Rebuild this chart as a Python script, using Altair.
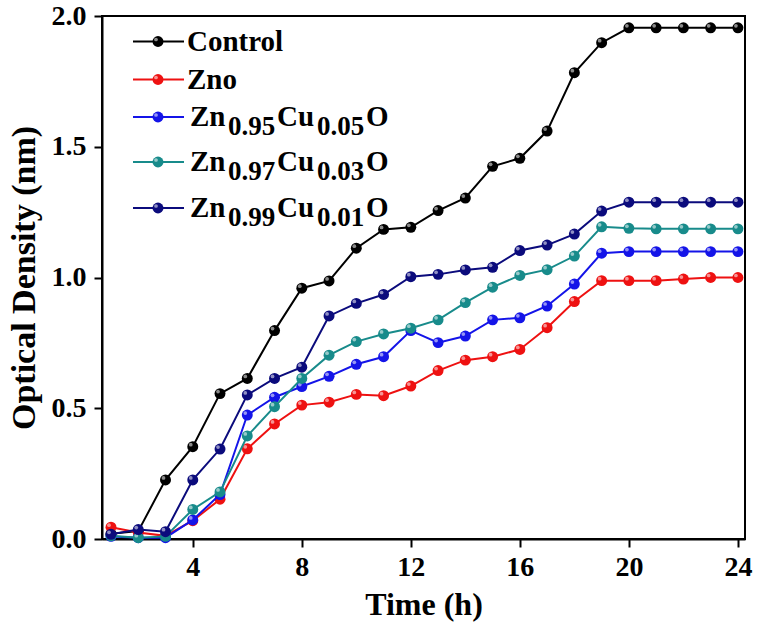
import altair as alt
import pandas as pd

# Optical density growth curves over 24 h
hours = list(range(1, 25))
series_names = ["Control", "Zno", "Zn0.95Cu0.05O", "Zn0.97Cu0.03O", "Zn0.99Cu0.01O"]
series_colors = ["#000000", "#ee1111", "#1414e8", "#188b8b", "#0b0b7c"]

control = [0.02, 0.03, 0.226, 0.353, 0.556, 0.614, 0.797, 0.959, 0.987, 1.112, 1.184, 1.192,
           1.256, 1.304, 1.425, 1.456, 1.56, 1.783, 1.898, 1.955, 1.955, 1.955, 1.955, 1.955]
zno = [0.045, 0.025, 0.012, 0.07, 0.152, 0.345, 0.44, 0.512, 0.523, 0.553, 0.548, 0.585,
       0.644, 0.684, 0.697, 0.725, 0.808, 0.908, 0.988, 0.988, 0.988, 0.994, 1.0, 1.0]
cu05 = [0.01, 0.005, 0.005, 0.073, 0.17, 0.474, 0.542, 0.583, 0.622, 0.668, 0.697, 0.797,
        0.751, 0.776, 0.838, 0.846, 0.891, 0.975, 1.093, 1.099, 1.099, 1.099, 1.099, 1.099]
cu03 = [0.012, 0.005, 0.01, 0.113, 0.18, 0.394, 0.506, 0.614, 0.703, 0.755, 0.784, 0.806,
        0.838, 0.904, 0.963, 1.008, 1.03, 1.082, 1.194, 1.188, 1.186, 1.186, 1.186, 1.186]
cu01 = [0.018, 0.036, 0.028, 0.226, 0.344, 0.551, 0.614, 0.657, 0.853, 0.901, 0.935, 1.003,
        1.012, 1.029, 1.039, 1.103, 1.124, 1.166, 1.254, 1.288, 1.288, 1.288, 1.288, 1.288]

zn_sub = ["0.95", "0.97", "0.99"]
cu_sub = ["0.05", "0.03", "0.01"]

x_ticks = [4, 8, 12, 16, 20, 24]
y_ticks = [0.0, 0.5, 1.0, 1.5, 2.0]

FONT = "'Liberation Serif', 'Times New Roman', 'DejaVu Serif', serif"

all_values = [control, zno, cu05, cu03, cu01]
rows = []
for name, vals in zip(series_names, all_values):
    for h, v in zip(hours, vals):
        rows.append({"series": name, "hour": h, "od": v})
df = pd.DataFrame(rows)

x_enc = alt.X("hour:Q", title="Time (h)",
              scale=alt.Scale(domain=[0.67, 24.26], nice=False, zero=False),
              axis=alt.Axis(values=x_ticks, format="d", grid=False,
                            titleFontSize=32, titlePadding=8))
y_enc = alt.Y("od:Q", title="Optical Density (nm)",
              scale=alt.Scale(domain=[0, 2.0], nice=False),
              axis=alt.Axis(values=y_ticks, format=".1f", grid=False,
                            titleFontSize=34, titlePadding=10, labelPadding=8))

# one line + glossy symbols per series, drawn in legend order
series_layers = []
for name, col in zip(series_names, series_colors):
    base = alt.Chart(df).transform_filter(alt.datum.series == name).encode(x=x_enc, y=y_enc)
    series_layers.append(base.mark_line(color=col, strokeWidth=2))
    series_layers.append(base.mark_circle(color=col, size=120, opacity=1))
    series_layers.append(base.mark_circle(color="white", size=14, opacity=0.55,
                                          xOffset=-2, yOffset=-2))
data_layer = alt.layer(*series_layers)

# in-plot legend with subscripted formulas
leg_df = pd.DataFrame({"series": series_names, "row": list(range(5))})
form_df = pd.DataFrame({"row": [2, 3, 4], "zn": zn_sub, "cu": cu_sub})
leg_y = alt.Y("row:Q", axis=None,
              scale=alt.Scale(domain=[0, 1, 2, 3, 4], range=[25.5, 63.5, 101, 146, 192],
                              nice=False, zero=False))
leg_color = alt.Color("series:N", legend=None,
                      scale=alt.Scale(domain=series_names, range=series_colors))

leg_rule = alt.Chart(leg_df).mark_rule(strokeWidth=2).encode(
    x=alt.value(31), x2=alt.value(82), y=leg_y, color=leg_color)
leg_dot = alt.Chart(leg_df).mark_circle(size=120, opacity=1).encode(
    x=alt.value(56), y=leg_y, color=leg_color)
leg_hl = alt.Chart(leg_df).mark_circle(color="white", size=14, opacity=0.55,
                                       xOffset=-2, yOffset=-2).encode(x=alt.value(56), y=leg_y)

txt = dict(font=FONT, fontWeight="bold", fontSize=29, color="black",
           align="left", baseline="middle")
sub = dict(font=FONT, fontWeight="bold", fontSize=27, color="black",
           align="left", baseline="middle", dy=10)

leg_plain = alt.Chart(leg_df).transform_filter(alt.datum.row < 2).mark_text(**txt).encode(
    x=alt.value(85), y=leg_y, text="series:N")
f_zn = alt.Chart(form_df).mark_text(**txt).encode(x=alt.value(88), y=leg_y, text=alt.value("Zn"))
f_zs = alt.Chart(form_df).mark_text(**sub).encode(x=alt.value(126), y=leg_y, text="zn:N")
f_cu = alt.Chart(form_df).mark_text(**txt).encode(x=alt.value(175), y=leg_y, text=alt.value("Cu"))
f_cs = alt.Chart(form_df).mark_text(**sub).encode(x=alt.value(215), y=leg_y, text="cu:N")
f_o = alt.Chart(form_df).mark_text(**txt).encode(x=alt.value(264), y=leg_y, text=alt.value("O"))

legend_layer = alt.layer(leg_rule, leg_dot, leg_hl, leg_plain, f_zn, f_zs, f_cu, f_cs, f_o)

chart = alt.layer(data_layer, legend_layer).resolve_scale(
    y="independent", color="independent"
).properties(
    width=643, height=523,
    autosize=alt.AutoSizeParams(type="none"),
    padding={"left": 102, "top": 16, "right": 16, "bottom": 93},
    background="white",
).configure_view(
    stroke="black", strokeWidth=2
).configure_axis(
    labelFont=FONT, labelFontWeight="bold", labelFontSize=28, labelColor="black",
    titleFont=FONT, titleFontWeight="bold", titleColor="black",
    domainColor="black", domainWidth=2, tickColor="black", tickWidth=2, tickSize=8,
    labelPadding=6,
)

chart.save("out.html", embed_options={"renderer": "svg", "actions": False})
